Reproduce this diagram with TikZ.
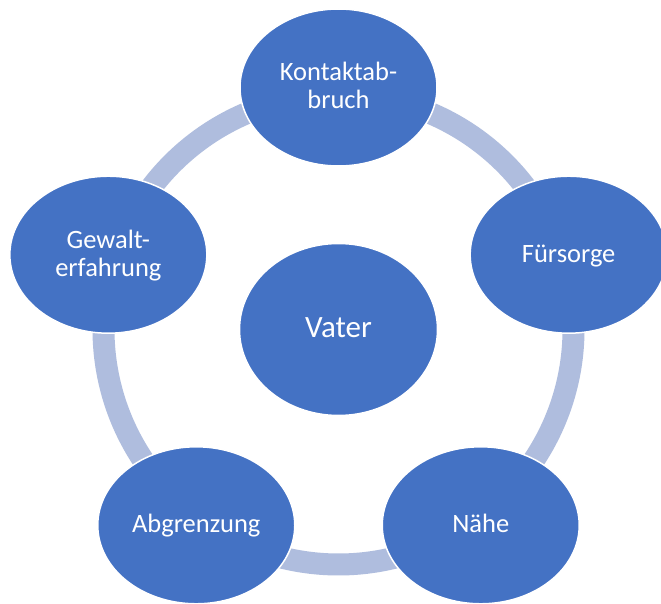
\documentclass[tikz,border=0pt]{standalone}
\usepackage{fontspec}
\setmainfont{Carlito}
\usetikzlibrary{shapes.geometric,calc}
\pgfdeclarelayer{background}
\pgfsetlayers{background,main}
\definecolor{blobblue}{HTML}{4472C4}
\definecolor{ringblue}{RGB}{175,189,222}
% struts that fix the line box of the labels
\newcommand\lblstrut{\rule[-6.5pt]{0pt}{28pt}}
\newcommand\hubstrut{\rule[-8pt]{0pt}{32pt}}
\tikzset{
  blob/.style={ellipse, fill=blobblue, draw=white, line width=1.5pt,
    inner sep=0pt, outer sep=0pt, text=white, align=center,
    minimum width=197pt, minimum height=157pt,
    font=\fontsize{26.5}{28}\selectfont},
  hubblob/.style={blob, minimum width=198pt, minimum height=172pt,
    font=\fontsize{31}{34}\selectfont},
  ring/.style={draw=ringblue, line width=22pt},
}
\begin{document}
\begin{tikzpicture}[x=1pt,y=1pt]
\useasboundingbox (0,0) rectangle (661,603);
\clip (0,0) rectangle (661,603);

% centre and the five surrounding themes
\node[hubblob] (hub) at (338.5,273.5) {\hubstrut Vater};
\node[blob] (kon) at ([shift={(90:242)}]hub.center) {\lblstrut Kontaktab-\\\lblstrut bruch};
\node[blob] (fur) at ([shift={(18:242)}]hub.center) {\lblstrut Fürsorge};
\node[blob] (nah) at ([shift={(-54:242)}]hub.center) {\lblstrut Nähe};
\node[blob] (abg) at ([shift={(-126:242)}]hub.center) {\lblstrut Abgrenzung};
\node[blob] (gew) at ([shift={(162:242)}]hub.center) {\lblstrut Gewalt-\\\lblstrut erfahrung};

% white page and ring segments joining neighbouring themes
\begin{pgfonlayer}{background}
\fill[white] (0,0) rectangle (661,603);
\foreach \u/\v in {kon/fur,fur/nah,nah/abg,abg/gew,gew/kon}
  \draw[ring] let \p1=($(\u.center)-(hub.center)$),
                  \p2=($(\v.center)-(hub.center)$),
                  \n1={atan2(\y1,\x1)},
                  \n2={atan2(\y2,\x2)},
                  \n3={\n2>\n1 ? \n2-360 : \n2} in
    ([shift={(\n1:235)}]hub.center) arc[start angle=\n1, end angle=\n3, radius=235];
\end{pgfonlayer}
\end{tikzpicture}
\end{document}
